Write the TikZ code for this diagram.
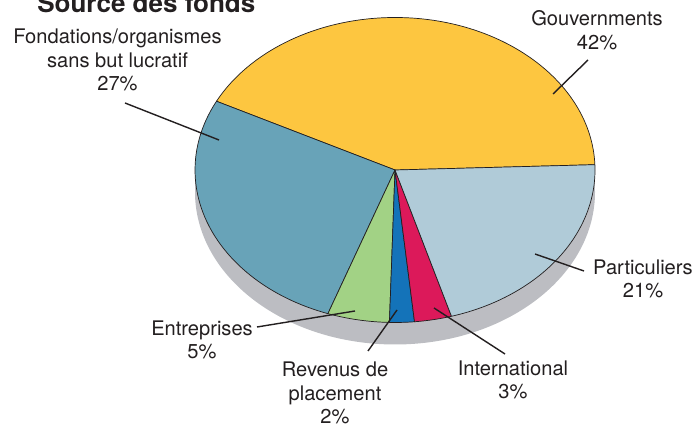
\documentclass[tikz,border=0pt]{standalone}
\usepackage{fontspec}
\setmainfont{TeX Gyre Heros}
\usepackage{tikz}
\definecolor{govyellow}{RGB}{253,198,64}
\definecolor{fondblue}{RGB}{104,163,184}
\definecolor{partblue}{RGB}{176,203,216}
\definecolor{entgreen}{RGB}{162,210,133}
\definecolor{revblue}{RGB}{20,115,185}
\definecolor{intred}{RGB}{220,25,90}
\definecolor{sidegray}{RGB}{188,189,194}
\definecolor{inkblack}{RGB}{35,31,32}
\newcommand{\labfont}{\fontsize{14.3}{16.8}\selectfont}

\begin{document}
\begin{tikzpicture}[x=0.025cm,y=0.025cm,
  slice/.style={draw=inkblack,line width=0.5pt,line join=round},
  leader/.style={draw=inkblack,line width=1pt},
  lab/.style={align=center,text=inkblack,font=\labfont,inner sep=0pt}]
\useasboundingbox (0,0) rectangle (696,425);
\coordinate (c) at (395,255);
% side of the pie
\fill[sidegray] (395,233) ellipse [x radius=200,y radius=152.5];
\fill[sidegray] (195,233) rectangle (595,255);
% top of the pie
\foreach \a/\b/\col in {2/153.2/govyellow,153.2/250.4/fondblue,250.4/268.4/entgreen,
  268.4/275.6/revblue,275.6/286.4/intred,286.4/362/partblue}
  \filldraw[slice,fill=\col] (c) -- ++(\a:200 and 152.5)
    arc[start angle=\a,end angle=\b,x radius=200,y radius=152.5] -- cycle;
% title
\node[anchor=base west,inner sep=0pt,text=inkblack,font=\fontsize{18.5}{20}\selectfont\bfseries]
  (title) at (37,412) {Source des fonds};
% labels
\node[lab] (gov) at (597,395) {Gouvernments\\42\%};
\node[lab] (fond) at (117.5,365) {Fondations/organismes\\sans but lucratif\\27\%};
\node[lab] (part) at (643,146) {Particuliers\\21\%};
\node[lab] (ent) at (202,85) {Entreprises\\5\%};
\node[lab] (rev) at (335,32) {Revenus de\\placement\\2\%};
\node[lab] (int) at (513,45) {International\\3\%};
% leader lines
\coordinate (gov-a) at (588,365);  \coordinate (gov-b) at (553,331);
\coordinate (fond-a) at (125,322); \coordinate (fond-b) at (219,285);
\coordinate (part-a) at (584,154); \coordinate (part-b) at (535,171);
\coordinate (ent-a) at (257,98);   \coordinate (ent-b) at (355,114);
\coordinate (rev-a) at (368,74);   \coordinate (rev-b) at (397,115);
\coordinate (int-a) at (505,71);   \coordinate (int-b) at (434,117);
\foreach \n in {gov,fond,part,ent,rev,int}
  \draw[leader] (\n-a) -- (\n-b);
\end{tikzpicture}
\end{document}
